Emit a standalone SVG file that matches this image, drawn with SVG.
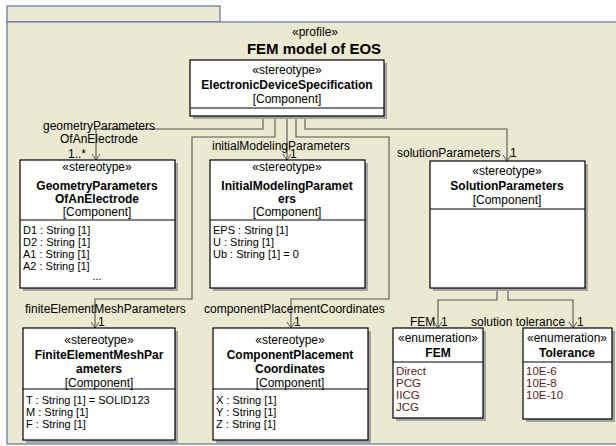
<svg xmlns="http://www.w3.org/2000/svg" width="616" height="446" viewBox="0 0 616 446">
<defs>
<marker id="arr" markerWidth="10" markerHeight="10" refX="8" refY="5" orient="auto" markerUnits="userSpaceOnUse">
<path d="M2,1 L8,5 L2,9" fill="none" stroke="#555" stroke-width="1"/>
</marker>
</defs>
<style>
text{font-family:"Liberation Sans",Arial,sans-serif;font-size:12px;fill:#000}
.b{font-weight:bold}
.t{font-weight:bold;font-size:15px}
.m{text-anchor:middle}
.a{font-size:11px}
.lit{fill:#5a2020;font-size:11.5px}
.pkg{fill:#ebe9d0;stroke:#6c7ba6;stroke-width:1.3}
.box{fill:#fff;stroke:#000;stroke-width:1.2}
.sh{fill:#a3a3a3}
.sep{stroke:#000;stroke-width:1}
.c{fill:none;stroke:#555;stroke-width:1.1;marker-end:url(#arr)}
</style>
<g id="package">
<rect class="pkg" x="7" y="6" width="213" height="16"/>
<rect class="pkg" x="7" y="22" width="620" height="422"/>
<text class="m" x="315" y="36">«profile»</text>
<text class="t m" x="314" y="54">FEM model of EOS</text>
</g>
<g id="connectors">
<path class="c" d="M263,116 V129 H96 V160"/>
<path class="c" d="M275,116 V137 H192 V299 H95 V328"/>
<path class="c" d="M287,116 V160"/>
<path class="c" d="M296,116 V137 H389 V299 H291 V328"/>
<path class="c" d="M305,116 V129 H507 V161"/>
<path class="c" d="M497,288 V300 H438 V328"/>
<path class="c" d="M508,288 V300 H573 V328"/>
<text class="m" x="99" y="130">geometryParameters</text>
<text class="m" x="99" y="143">OfAnElectrode</text>
<text x="68" y="158">1..*</text>
<text x="212" y="150">initialModelingParameters</text>
<text x="290" y="158">1</text>
<text x="397" y="157">solutionParameters</text>
<text x="510" y="157">1</text>
<text x="25" y="313">finiteElementMeshParameters</text>
<text x="98" y="326">1</text>
<text x="204" y="313">componentPlacementCoordinates</text>
<text x="294" y="326">1</text>
<text x="410" y="326">FEM</text>
<text x="441" y="326">1</text>
<text x="471" y="326">solution tolerance</text>
<text x="577" y="326">1</text>
</g>
<g id="ElectronicDeviceSpecification">
<rect class="sh" x="193" y="63" width="194" height="56"/>
<rect class="box" x="190" y="60" width="194" height="56"/>
<line class="sep" x1="190" y1="108" x2="384" y2="108"/>
<text class="m" x="287" y="74">«stereotype»</text>
<text class="b m" x="287" y="88.5">ElectronicDeviceSpecification</text>
<text class="m" x="287" y="103">[Component]</text>
</g>
<g id="GeometryParametersOfAnElectrode">
<rect class="sh" x="23" y="163" width="155" height="128"/>
<rect class="box" x="20" y="160" width="155" height="128"/>
<line class="sep" x1="20" y1="220" x2="175" y2="220"/>
<text class="m" x="97" y="171">«stereotype»</text>
<text class="b m" x="97" y="189.5">GeometryParameters</text>
<text class="b m" x="97" y="202.5">OfAnElectrode</text>
<text class="m" x="97" y="216">[Component]</text>
<text class="a" x="23" y="234">D1 : String [1]</text>
<text class="a" x="23" y="246">D2 : String [1]</text>
<text class="a" x="23" y="258">A1 : String [1]</text>
<text class="a" x="23" y="270">A2 : String [1]</text>
<text class="a m" x="97" y="280">...</text>
</g>
<g id="InitialModelingParameters">
<rect class="sh" x="213" y="163" width="155" height="128"/>
<rect class="box" x="210" y="160" width="155" height="128"/>
<line class="sep" x1="210" y1="220" x2="365" y2="220"/>
<text class="m" x="287" y="171">«stereotype»</text>
<text class="b m" x="287" y="189.5">InitialModelingParamet</text>
<text class="b m" x="287" y="202.5">ers</text>
<text class="m" x="287" y="216">[Component]</text>
<text class="a" x="213" y="234">EPS : String [1]</text>
<text class="a" x="213" y="246">U : String [1]</text>
<text class="a" x="213" y="258">Ub : String [1] = 0</text>
</g>
<g id="SolutionParameters">
<rect class="sh" x="433" y="164" width="155" height="127"/>
<rect class="box" x="430" y="161" width="155" height="127"/>
<line class="sep" x1="430" y1="209" x2="585" y2="209"/>
<text class="m" x="507" y="175">«stereotype»</text>
<text class="b m" x="507" y="190">SolutionParameters</text>
<text class="m" x="507" y="204">[Component]</text>
</g>
<g id="FiniteElementMeshParameters">
<rect class="sh" x="26" y="331" width="152" height="112"/>
<rect class="box" x="23" y="328" width="152" height="112"/>
<line class="sep" x1="23" y1="389" x2="175" y2="389"/>
<text class="m" x="99" y="344">«stereotype»</text>
<text class="b m" x="99" y="359">FiniteElementMeshPar</text>
<text class="b m" x="99" y="373">ameters</text>
<text class="m" x="99" y="387">[Component]</text>
<text class="a" x="26" y="404">T : String [1] = SOLID123</text>
<text class="a" x="26" y="416">M : String [1]</text>
<text class="a" x="26" y="428">F : String [1]</text>
</g>
<g id="ComponentPlacementCoordinates">
<rect class="sh" x="216" y="331" width="155" height="112"/>
<rect class="box" x="213" y="328" width="155" height="112"/>
<line class="sep" x1="213" y1="389" x2="368" y2="389"/>
<text class="m" x="290" y="344">«stereotype»</text>
<text class="b m" x="290" y="359">ComponentPlacement</text>
<text class="b m" x="290" y="373">Coordinates</text>
<text class="m" x="290" y="387">[Component]</text>
<text class="a" x="216" y="404">X : String [1]</text>
<text class="a" x="216" y="416">Y : String [1]</text>
<text class="a" x="216" y="428">Z : String [1]</text>
</g>
<g id="FEM">
<rect class="sh" x="396" y="331" width="90" height="90"/>
<rect class="box" x="393" y="328" width="90" height="90"/>
<line class="sep" x1="393" y1="362" x2="483" y2="362"/>
<text class="m" x="438" y="342">«enumeration»</text>
<text class="b m" x="438" y="357">FEM</text>
<text class="lit" x="396" y="375">Direct</text>
<text class="lit" x="396" y="387">PCG</text>
<text class="lit" x="396" y="399">IICG</text>
<text class="lit" x="396" y="411">JCG</text>
</g>
<g id="Tolerance">
<rect class="sh" x="526" y="331" width="89" height="91"/>
<rect class="box" x="523" y="328" width="89" height="91"/>
<line class="sep" x1="523" y1="362" x2="612" y2="362"/>
<text class="m" x="567" y="342">«enumeration»</text>
<text class="b m" x="567" y="357">Tolerance</text>
<text class="lit" x="526" y="375">10E-6</text>
<text class="lit" x="526" y="387">10E-8</text>
<text class="lit" x="526" y="399">10E-10</text>
</g>
</svg>
